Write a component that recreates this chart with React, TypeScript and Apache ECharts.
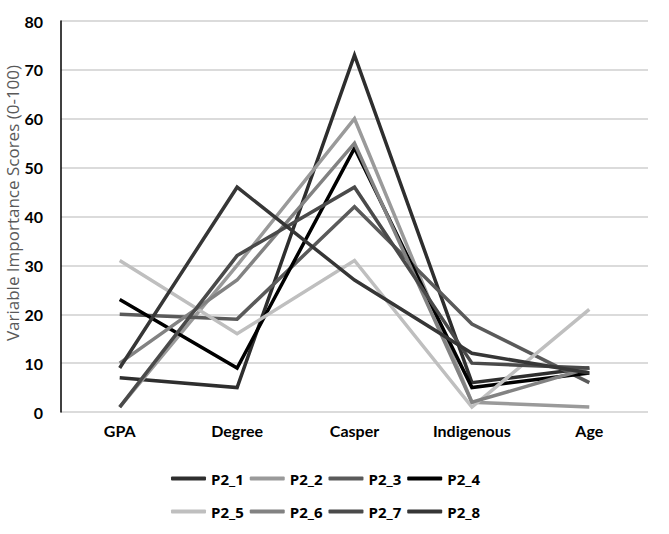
import React, { useEffect, useRef } from "react";
import * as echarts from "echarts";

const categories = ["GPA", "Degree", "Casper", "Indigenous", "Age"];
const seriesNames = ["P2_1", "P2_2", "P2_3", "P2_4", "P2_5", "P2_6", "P2_7", "P2_8"];
const P2_1 = [7, 5, 73, 6, 9];
const P2_2 = [1, 30, 60, 2, 1];
const P2_3 = [20, 19, 42, 18, 6];
const P2_4 = [23, 9, 54, 5, 8];
const P2_5 = [31, 16, 31, 1, 21];
const P2_6 = [10, 27, 55, 2, 9];
const P2_7 = [1, 32, 46, 10, 9];
const P2_8 = [9, 46, 27, 12, 8];
const seriesValues = [P2_1, P2_2, P2_3, P2_4, P2_5, P2_6, P2_7, P2_8];
const seriesColors = ["#2e2e2e", "#9a9a9a", "#5a5a5a", "#000000", "#bfbfbf", "#828282", "#4a4a4a", "#363636"];
const yTicks = { min: 0, max: 80, interval: 10 };
const yName = "Variable Importance Scores (0-100)";

export default function App() {
  const ref = useRef<HTMLDivElement>(null);
  useEffect(() => {
    if (!ref.current) return;
    const chart = echarts.init(ref.current, undefined, { renderer: "svg" });
    const font = "Lato, 'Liberation Sans', sans-serif";
    const legendCommon = {
      left: 166,
      itemWidth: 35,
      itemHeight: 4,
      itemGap: 6,
      icon: "roundRect",
      textStyle: { color: "#000", fontSize: 15, fontWeight: "bold", fontFamily: "'Open Sans', sans-serif" },
    };
    chart.setOption({
      animation: false,
      backgroundColor: "#fff",
      grid: { left: 61, right: 21, top: 21, bottom: 122, containLabel: false },
      legend: [
        { ...legendCommon, top: 466, data: seriesNames.slice(0, 4) },
        { ...legendCommon, top: 499, data: seriesNames.slice(4) },
      ],
      graphic: [
        {
          type: "text",
          x: 12,
          y: 203,
          rotation: Math.PI / 2,
          style: {
            text: yName,
            fill: "#595959",
            fontSize: 17,
            fontFamily: "'Open Sans', sans-serif",
            textAlign: "center",
            textVerticalAlign: "middle",
          },
        },
      ],
      xAxis: {
        type: "category",
        data: categories,
        boundaryGap: true,
        axisLine: { show: false },
        axisTick: { show: false },
        axisLabel: { color: "#000", fontSize: 16, fontWeight: "bold", fontFamily: font, margin: 10 },
      },
      yAxis: {
        type: "value",
        min: yTicks.min,
        max: yTicks.max,
        interval: yTicks.interval,
        axisLine: { show: true, lineStyle: { color: "#000", width: 1.5 } },
        axisTick: { show: false },
        axisLabel: { color: "#000", fontSize: 16, fontWeight: "bold", fontFamily: font, margin: 18 },
        splitLine: { show: true, lineStyle: { color: "#cfcfcf", width: 1.5 } },
      },
      series: seriesNames.map((name, i) => ({
        name,
        type: "line",
        data: seriesValues[i],
        symbol: "none",
        color: seriesColors[i],
        lineStyle: { width: 3.5, color: seriesColors[i], join: "miter" },
      })),
    });
    return () => chart.dispose();
  }, []);
  return <div ref={ref} style={{ width: 669, height: 534, position: "absolute", left: 0, top: 0 }} />;
}
